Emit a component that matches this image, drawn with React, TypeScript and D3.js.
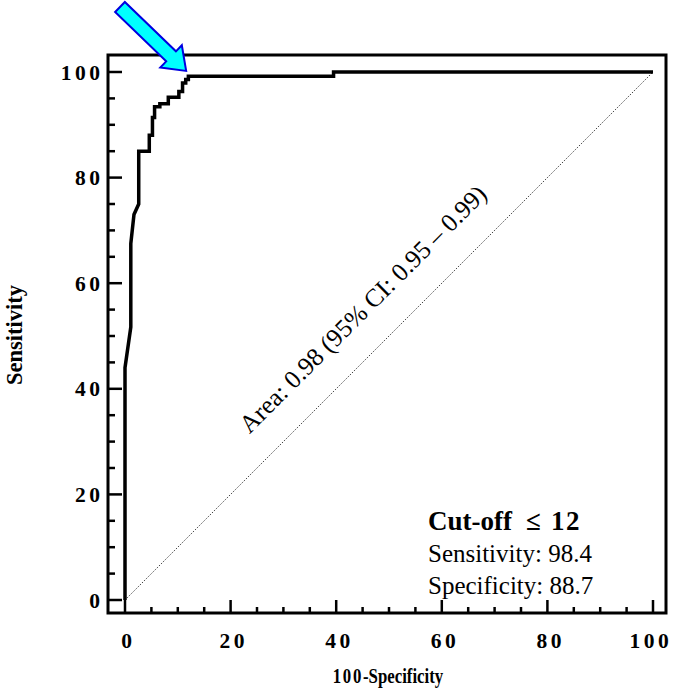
import React from 'react';
import * as d3 from 'd3';

// ROC curve (100-Specificity, Sensitivity)
const rocFpr = [0, 0, 1.1, 1.1, 1.7, 2.6, 2.6, 4.6, 4.6, 5.2, 5.2, 5.6, 5.6, 6.6, 6.6, 8.2, 8.2, 10.2, 10.2, 10.9, 10.9, 11.5, 11.5, 12.0, 12.0, 39.5, 39.5, 100];
const rocTpr = [0, 44, 51.7, 67.5, 73, 75, 85, 85, 88, 88, 91.4, 91.4, 93.4, 93.4, 94.0, 94.0, 95.2, 95.2, 96.3, 96.3, 97.9, 97.9, 98.6, 98.6, 99.2, 99.2, 100, 100];

const majorTicks = [0, 20, 40, 60, 80, 100];
const minorTicks = [5, 10, 15, 25, 30, 35, 45, 50, 55, 65, 70, 75, 85, 90, 95];

const cutoffPoint = [11.3, 98.4];
const areaText = 'Area: 0.98 (95% CI: 0.95 – 0.99)';
const legendLines = ['Sensitivity: 98.4', 'Specificity: 88.7'];

const W = 675;
const H = 688;
const frame = { left: 108, right: 666, top: 55, bottom: 613 };
const FONT = '"Liberation Serif", "Times New Roman", serif';

export default function App() {
  const x = d3.scaleLinear().domain([0, 100]).range([125, 653]);
  const y = d3.scaleLinear().domain([0, 100]).range([600, 72]);

  const pts: [number, number][] = rocFpr.map((f, i) => [f, rocTpr[i]]);
  const line = d3
    .line<[number, number]>()
    .x((d) => x(d[0]))
    .y((d) => y(d[1]));

  // arrow geometry (local coords: tip at origin, pointing +x)
  const headLen = 21;
  const headHalf = 15.5;
  const shaftHalf = 7;
  const shaftLen = 92;
  const arrowPts = [
    [0, 0],
    [-headLen, -headHalf],
    [-headLen, -shaftHalf],
    [-shaftLen, -shaftHalf],
    [-shaftLen, shaftHalf],
    [-headLen, shaftHalf],
    [-headLen, headHalf],
  ];
  const arrowPath = d3.line()(arrowPts as [number, number][]) + 'Z';
  const tipX = x(cutoffPoint[0]) + 1.5;
  const tipY = y(cutoffPoint[1]) - 9.5;
  const arrowAngle = 44;

  const areaU = 46.2;
  const areaX = x(areaU);
  const areaY = y(areaU) - 41;

  const tickLS = 3.5;

  return (
    <svg
      width={W}
      height={H}
      style={{ position: 'absolute', left: 0, top: 0, background: '#fff' }}
      fontFamily={FONT}
    >
      <rect x={0} y={0} width={W} height={H} fill="#fff" />
      {/* diagonal reference line */}
      <line
        x1={x(0)}
        y1={y(0)}
        x2={x(100)}
        y2={y(100)}
        stroke="#444"
        strokeWidth={1}
        strokeDasharray="1.5,1.5"
      />
      {/* ROC curve */}
      <path d={line(pts) || ''} fill="none" stroke="#000" strokeWidth={3.5} strokeLinejoin="miter" />

      {/* frame */}
      <rect
        x={frame.left}
        y={frame.top}
        width={frame.right - frame.left}
        height={frame.bottom - frame.top}
        fill="none"
        stroke="#000"
        strokeWidth={3}
      />

      {/* y ticks */}
      {majorTicks.map((t) => (
        <line key={'ym' + t} x1={frame.left} x2={frame.left + 14} y1={y(t)} y2={y(t)} stroke="#000" strokeWidth={2.5} />
      ))}
      {minorTicks.map((t) => (
        <line key={'yn' + t} x1={frame.left} x2={frame.left + 7} y1={y(t)} y2={y(t)} stroke="#000" strokeWidth={2.5} />
      ))}
      {/* x ticks */}
      {majorTicks.map((t) => (
        <line key={'xm' + t} x1={x(t)} x2={x(t)} y1={frame.bottom} y2={frame.bottom - 13} stroke="#000" strokeWidth={2.5} />
      ))}
      {minorTicks.map((t) => (
        <line key={'xn' + t} x1={x(t)} x2={x(t)} y1={frame.bottom} y2={frame.bottom - 6} stroke="#000" strokeWidth={2.5} />
      ))}

      {/* y tick labels */}
      {majorTicks.map((t) => (
        <text
          key={'yl' + t}
          x={frame.left - 8 + tickLS}
          y={y(t) + 7.5}
          textAnchor="end"
          fontSize={21.5}
          fontWeight="bold"
          letterSpacing={tickLS}
        >
          {t}
        </text>
      ))}
      {/* x tick labels */}
      {majorTicks.map((t) => (
        <text
          key={'xl' + t}
          x={x(t) + tickLS / 2 + (t === 100 ? -4 : 1.5)}
          y={648}
          textAnchor="middle"
          fontSize={21.5}
          fontWeight="bold"
          letterSpacing={tickLS}
        >
          {t}
        </text>
      ))}

      {/* axis titles */}
      <text
        transform="translate(388,683) scale(0.84,1)"
        textAnchor="middle"
        fontSize={20}
        fontWeight="bold"
      >
        <tspan letterSpacing={2}>100</tspan>-Specificity
      </text>
      <text
        transform={`translate(22,335) rotate(-90)`}
        textAnchor="middle"
        fontSize={22.5}
        fontWeight="bold"
      >
        Sensitivity
      </text>

      {/* area annotation */}
      <text
        transform={`translate(${areaX},${areaY}) rotate(-45)`}
        textAnchor="middle"
        fontSize={25.5}
      >
        {areaText}
      </text>

      {/* cut-off legend */}
      <text y={530} fontSize={27} fontWeight="bold">
        <tspan x={428}>Cut-off</tspan>
        <tspan x={526}>≤</tspan>
        <tspan x={551} letterSpacing={1.5}>12</tspan>
      </text>
      {legendLines.map((l, i) => (
        <text key={l} x={428} y={562 + i * 32} fontSize={25}>
          {l}
        </text>
      ))}

      {/* arrow */}
      <path
        d={arrowPath}
        transform={`translate(${tipX},${tipY}) rotate(${arrowAngle})`}
        fill="#00FFFF"
        stroke="#0000E0"
        strokeWidth={2}
        strokeLinejoin="miter"
      />
    </svg>
  );
}
